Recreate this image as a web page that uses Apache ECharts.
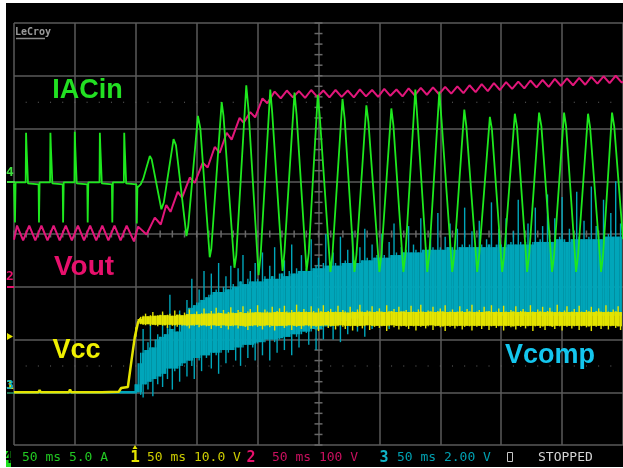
<!DOCTYPE html>
<html><head><meta charset="utf-8">
<script src="https://cdn.jsdelivr.net/npm/echarts/dist/echarts.min.js"></script>
<style>html,body{margin:0;padding:0;background:#fff;}#c{width:623px;height:468px;}</style>
</head><body><div id="c"></div>
<script>
// ---- channel scales (per division) ----
var timePerDivMs = 50;           // 10 divisions
var ch4AmpsPerDiv = 5;           // IACin
var ch1VoltsPerDiv = 10;         // Vcc
var ch2VoltsPerDiv = 100;        // Vout
var ch3VoltsPerDiv = 2;          // Vcomp
var statusTexts = ["50 ms 5.0 A", "50 ms 10.0 V", "50 ms 100 V", "50 ms 2.00 V", "STOPPED"];
var labelTexts = ["IACin", "Vout", "Vcc", "Vcomp"];

// ---- IACin (A) : [time ms, amps] ----
var iacin = [
[0,-0.2],[0.5,-0.2],[0.8,-3.9],[1.3,-0.1],
[9.6,-0.1],[9.9,4.6],[10.3,3.2],[11.2,3.2],[11.5,-0.2],[20.2,-0.3],[20.5,-3.9],[21,-0.1],
[29.6,-0.1],[29.9,4.6],[30.3,3.2],[31.2,3.2],[31.5,-0.2],[40,-0.3],[40.3,-3.9],[40.8,-0.1],
[49.6,-0.1],[49.9,4.7],[50.3,3.2],[51.2,3.2],[51.5,-0.2],[60.2,-0.3],[60.5,-3.9],[61,-0.1],
[70.2,-0.1],[70.5,4.6],[70.9,3.2],[71.8,3.2],[72.1,-0.2],[80.4,-0.3],[80.7,-3.9],[81.2,-0.1],
[90.2,-0.1],[90.5,4.6],[90.9,3.2],[91.8,3.2],[92.1,-0.2],[100.5,-0.3],[100.8,-4.0],[101.3,-0.6],
[102,-0.6],[104,-0.3],[106,0.2],[111.5,2.4],[113,2.1],[121,-2.65],[123,-2.0],[131,4.0],[133,3.4],
[141.6,-5.2],[143,-4.3],[151,6.2],[153,5.0],[160.7,-7.2],[162,-6.4],[170.5,7.5],[172,6.2],
[181,-8.2],[182.5,-7.0],[190.7,9.1],[192.5,6.8],[200.8,-8.9],[202.5,-7.0],[210.4,8.7],[212,6.5],
[220.5,-8.5],[222,-6.8],[230.3,8.4],[232,6.3],[240.2,-8.5],[242,-6.8],[249.4,8.2],[251,6.2],
[259.8,-8.6],[261.5,-6.9],[269.7,7.8],[271.5,5.9],[279.5,-8.6],[281.2,-6.9],[289.3,7.2],[291,5.6],
[300,-8.6],[301.7,-6.9],[309.8,6.9],[311.5,5.3],[319.7,-8.6],[321.4,-6.9],[329.5,8.7],[331.2,5.9],
[339.3,-8.6],[341,-6.9],[349.2,8.5],[351,5.8],[359.8,-8.6],[361.5,-6.9],[369.7,6.8],[371.4,5.2],
[380.3,-8.6],[382,-6.9],[390.7,6.1],[392.4,4.9],[400.8,-8.6],[402.5,-6.9],[411.2,6.4],[413,5.1],
[421.3,-8.6],[423,-6.9],[431.1,6.5],[433,5.2],[441.8,-8.6],[443.5,-6.9],[451.6,6.5],[453.3,5.2],
[461.5,-8.6],[463.2,-6.9],[471.3,6.4],[473,5.1],[482,-8.6],[483.7,-6.9],[491,6.5],[492.8,5.2],[500,-5.5]
];

// ---- Vout (V) : [time ms, volts] ----
var vout = [
[0,89],[2.5,116],[7.5,88],[12.5,116],[17.5,88],[22.5,116],[27.5,88],[32.5,116],[37.5,88],[42.5,116],
[47.5,88],[52.5,116],[57.5,88],[62.5,116],[67.5,88],[72.5,116],[77.5,88],[82.5,116],[87.5,88],[92.5,116],
[98.5,86],[101.9,114],[108.8,99],[115.6,131],[120.5,118],[125,155],[128.5,142],[134.4,180],[138,169],
[144.3,207],[148.4,197],[154.9,235],[159,226],[164.8,265],[168.9,254],[174.6,292],[178.7,279],[185.2,320],
[188.5,311],[194,331],[198,321],[204,357],[208,348],[214,370],[219,357],[224,372],[229,359],[234,371],
[239,358],[244,373],[249,360],[254,372],[259,359],[264,373],[269,360],[274,372],[279,359],[284,374],
[289,361],[294,373],[299,360],[304,375],[309,362],[314,374],[319,361],[324,376],[329,363],[334,377],
[339,364],[344,378],[349,365],[354,379],[359,366],[364,380],[369,367],[374,382],[379,369],[384,384],
[389,371],[394,386],[399,373],[404,388],[409,375],[414,389],[419,376],[424,391],[429,378],[434,392],
[439,379],[444,394],[449,381],[454,395],[459,382],[464,396],[469,383],[474,398],[479,385],[484,399],
[489,386],[494,400],[499,387],[500,389]
];

// ---- Vcc (V) before the noisy plateau : [time ms, volts] ----
var vccStart = [
[0,0],[20,0],[21,0.4],[22,0],[45,0],[46,0.5],[47,0],[70,0],[71,0.3],[72,0],[86,0.1],[88,0.8],
[93.5,1.0],[96.5,6.1],[99.2,10.5],[101.9,13.3],[104,14.0]
];
// Vcc noisy plateau, sampled every 2 ms from 100 ms: upper / lower edge (V)
var vccT0 = 100, vccDt = 2;
var vccHi = [
12.3,13.9,14.3,14.5,14.9,14.4,14.6,15.2,14.5,14.6, 14.7,15.3,14.6,14.7,14.9,14.5,15.5,14.7,14.8,14.6,
15.1,14.8,15.7,14.8,14.9,15.3,14.8,15.0,15.9,14.9, 15.0,15.4,14.9,16.0,15.1,15.0,15.6,14.9,15.2,16.1,
15.1,15.0,15.6,15.2,16.3,15.0,15.3,15.8,15.1,15.2, 16.5,15.2,15.1,15.7,15.3,15.1,16.2,15.2,15.4,15.9,
15.2,16.4,15.3,15.1,15.6,15.2,16.6,15.3,15.2,15.8, 15.3,15.2,16.3,15.4,15.1,15.9,15.3,16.5,15.2,15.4,
15.8,15.2,15.3,16.4,15.2,15.6,15.3,15.1,16.2,15.3, 15.2,15.7,16.6,15.3,15.2,15.5,15.3,16.3,15.2,15.4,
15.9,15.3,15.2,16.5,15.3,15.4,15.8,15.2,16.2,15.3, 15.3,15.6,15.2,16.4,15.3,15.2,15.7,16.6,15.3,15.2,
15.5,15.3,16.2,15.2,15.4,15.9,15.3,16.5,15.2,15.3, 15.7,15.2,15.3,16.3,15.4,15.2,15.8,15.3,16.6,15.2,
15.3,15.6,15.2,16.2,15.3,15.4,16.5,15.2,15.3,15.9, 15.2,16.4,15.3,15.2,15.6,15.3,16.3,15.2,15.4,15.8,
15.3,15.2,16.5,15.3,15.2,15.7,15.3,16.2,15.2,15.4, 16.0,15.3,15.2,16.6,15.3,15.2,15.5,16.3,15.2,15.3,
15.8,15.2,16.4,15.3,15.2,15.6,15.3,16.2,15.2,15.4, 15.9,15.3,15.2,16.5,15.3,15.2,15.7,15.3,16.3,15.2
];
var vccLo = [
10.5,13.0,12.9,12.8,12.7,12.9,12.6,12.8,12.7,12.5, 12.8,12.6,12.7,12.2,12.8,12.6,12.7,12.4,12.8,12.6,
12.7,12.5,12.1,12.7,12.6,12.8,12.3,12.6,12.7,12.5, 12.6,12.0,12.7,12.5,12.6,12.2,12.7,12.5,11.9,12.6,
12.5,12.7,12.1,12.6,12.5,12.4,11.8,12.6,12.5,12.7, 12.4,12.6,11.9,12.5,12.7,12.3,12.6,11.7,12.5,12.6,
12.6,12.2,12.5,12.7,11.8,12.6,12.4,12.6,12.0,12.5, 12.7,12.5,12.1,12.6,12.4,11.6,12.6,12.5,12.7,12.2,
12.5,12.6,11.9,12.5,12.7,12.4,12.0,12.6,12.5,11.7, 12.6,12.4,12.6,12.1,12.5,12.7,11.8,12.6,12.4,12.6,
12.2,12.5,12.6,11.6,12.5,12.7,12.3,12.6,11.9,12.5, 12.6,12.4,12.0,12.6,12.5,11.7,12.6,12.4,12.6,12.1,
12.5,12.7,11.8,12.5,12.6,12.3,12.5,11.6,12.6,12.4, 12.6,12.1,12.5,12.6,11.9,12.4,12.6,12.5,11.7,12.6,
12.4,12.6,12.0,12.5,12.6,11.8,12.5,12.6,12.2,12.5, 12.6,11.7,12.5,12.6,12.3,12.5,11.9,12.6,12.4,12.6,
12.1,12.5,12.6,11.6,12.5,12.6,12.2,12.5,11.8,12.6, 12.5,12.4,12.0,12.6,12.5,11.7,12.6,12.4,12.6,12.1,
12.5,12.6,11.8,12.5,12.6,12.3,12.5,11.6,12.6,12.4, 12.6,12.0,12.5,12.6,11.9,12.5,12.6,12.2,12.5,11.8
];

// ---- Vcomp (V) ----
var vcompStart = [[0,0],[101,0]];
var vcompT0 = 100, vcompDt = 2;
var vcompHi = [
0.3,1.1,1.5,2.4,1.6,1.9,2.6,1.7,2.0,2.2, 2.1,3.0,2.2,2.5,3.7,2.4,2.6,2.3,3.1,2.8,
2.9,3.5,3.2,4.3,3.3,3.4,3.9,3.5,4.6,3.6, 3.7,4.5,3.8,3.9,4.9,3.8,4.0,4.4,3.9,4.8,
4.1,4.0,4.7,4.2,5.2,4.1,4.3,4.6,4.2,4.9, 4.3,4.2,5.3,4.4,4.3,4.8,4.4,5.5,4.3,4.5,
4.5,5.0,4.4,4.6,5.6,4.5,4.7,4.6,5.2,4.6, 4.7,4.6,5.8,4.7,4.8,5.1,4.7,4.9,6.0,4.8,
4.8,5.3,4.9,4.8,5.9,4.9,5.0,5.4,4.9,6.1, 5.0,4.9,5.5,5.0,6.2,5.1,5.0,5.6,5.1,5.2,
5.1,6.0,5.2,5.1,5.7,5.2,6.4,5.3,5.2,5.5, 5.3,5.4,6.3,5.3,5.6,5.4,5.3,6.6,5.4,5.5,
5.4,6.0,5.5,5.4,6.8,5.5,5.4,5.9,5.5,6.4, 5.5,5.4,6.2,5.5,5.6,7.0,5.5,5.6,6.1,5.5,
5.5,6.5,5.6,5.5,5.8,5.6,7.2,5.5,5.6,6.2, 5.6,5.5,6.6,5.6,5.7,6.1,5.6,7.3,5.7,5.6,
5.7,6.4,5.6,5.7,7.0,5.7,5.8,6.3,5.7,7.5, 5.8,5.7,6.6,5.8,5.9,7.4,5.8,5.7,6.2,5.8,
5.8,7.6,5.9,5.8,6.5,5.8,5.9,7.8,5.8,6.3, 5.9,5.8,7.3,5.9,6.0,6.8,5.9,8.0,5.9,6.4
];
var vcompLo = [
0.0,0.0,-0.1,-0.2,0.3,0.1,0.4,-0.15,0.5,0.3, 0.6,0.2,0.7,0.5,0.9,0.1,0.8,0.9,0.4,1.0,
1.1,0.6,1.2,1.0,0.5,1.3,1.2,0.8,1.4,1.3, 1.4,0.9,1.5,1.4,0.7,1.5,1.6,1.1,1.5,1.6,
1.6,1.2,1.7,1.0,1.7,1.8,1.3,1.8,1.7,1.2, 1.85,1.9,1.4,1.9,2.0,1.2,2.0,1.9,1.5,2.0,
2.05,1.6,2.1,2.1,1.4,2.2,2.1,1.7,2.2,2.3, 2.25,1.8,2.3,2.4,1.6,2.4,2.4,2.0,2.5,2.5,
2.5,2.0,2.6,2.6,1.9,2.7,2.6,2.2,2.7,2.8, 2.75,2.3,2.8,2.9,2.1,2.9,2.9,2.4,3.0,2.9,
2.95,2.6,3.0,3.0,2.4,3.0,3.0,2.7,3.0,3.0, 3.0,2.8,3.0,3.0,2.6,3.0,3.0,2.8,3.0,3.0,
3.0,2.8,3.0,2.9,2.6,3.0,2.9,2.7,3.0,2.9, 2.9,3.0,2.6,2.9,3.0,2.9,2.7,2.9,3.0,2.9,
2.9,2.7,2.9,3.0,2.9,2.6,2.9,3.0,2.8,2.9, 2.9,2.9,2.7,2.9,3.0,2.9,2.6,2.9,2.9,2.8,
2.9,2.9,2.7,2.9,3.0,2.6,2.9,2.9,2.9,2.7, 2.9,2.9,2.8,2.9,2.9,2.6,2.9,2.9,2.7,2.9,
2.9,2.9,2.6,2.9,3.0,2.9,2.7,2.9,2.9,2.8, 2.9,2.9,2.6,2.9,2.9,2.8,2.9,2.9,2.7,2.9
];

// ---- colours ----
var C_GREEN = '#1ee81e', C_PINK = '#e2167a', C_YEL = '#e4e400', C_CYAN = '#00a6ba', C_GRID = '#5a5a5a';

function bandData(t0, dt, lo, hi) {
  var out = [];
  for (var i = 0; i < hi.length; i++) out.push([t0 + i * dt, lo[i], hi[i]]);
  return out;
}
// each sample: a solid core column (shared with its neighbours) plus a thin spike to its own extremes
function bandRender(color, dt, lo, hi) {
  return function (params, api) {
    var i = params.dataIndex, n = hi.length;
    var ip = Math.max(0, i - 1), inx = Math.min(n - 1, i + 1);
    var t = api.value(0), l = api.value(1), h = api.value(2);
    var coreHi = Math.min(h, hi[ip], hi[inx]);
    var coreLo = Math.max(l, lo[ip], lo[inx]);
    var ch = [];
    if (coreHi > coreLo) {
      var a = api.coord([t - dt / 2 - 0.1, coreHi]), b = api.coord([t + dt / 2 + 0.1, coreLo]);
      ch.push({ type: 'rect', shape: { x: a[0], y: a[1], width: b[0] - a[0], height: b[1] - a[1] }, style: { fill: color } });
    }
    var c = api.coord([t, h]), d = api.coord([t, l]);
    ch.push({ type: 'rect', shape: { x: c[0] - 0.7, y: c[1], width: 1.4, height: d[1] - c[1] }, style: { fill: color } });
    return { type: 'group', children: ch };
  };
}

var chart = echarts.init(document.getElementById('c'), null, { renderer: 'canvas' });

var graphic = [];
function txt(t, x, y, font, fill, align, va) {
  graphic.push({ type: 'text', z: 100, style: { text: t, x: x, y: y, font: font, fill: fill, align: align || 'left', verticalAlign: va || 'middle' } });
}
function ln(x1, y1, x2, y2, c, w) {
  graphic.push({ type: 'line', z: 100, shape: { x1: x1, y1: y1, x2: x2, y2: y2 }, style: { stroke: c, lineWidth: w } });
}
// logo
txt('LeCroy', 15, 32, 'bold 10px "DejaVu Sans Mono"', '#9a9a9a');
ln(16, 38.5, 45, 38.5, '#8a8a8a', 1.5);
// waveform labels
txt(labelTexts[0], 87.5, 91, 'bold 27px "Liberation Sans"', '#22e022', 'center');
txt(labelTexts[1], 84, 267, 'bold 28px "Liberation Sans"', '#e8106c', 'center');
txt(labelTexts[2], 76.5, 351, 'bold 27px "Liberation Sans"', '#f0f000', 'center');
txt(labelTexts[3], 505, 356, 'bold 27px "Liberation Sans"', '#14c6ee', 'left');
// left channel markers
txt('4', 10, 173, 'bold 13px "DejaVu Sans Mono"', '#3ee03e', 'center');
ln(7, 182, 15, 182, '#3ee03e', 2);
txt('2', 10, 277, 'bold 13px "DejaVu Sans Mono"', '#e8106c', 'center');
ln(7, 287, 14, 287, '#e8106c', 2);
graphic.push({ type: 'polygon', z: 100, shape: { points: [[7, 333], [13, 336.5], [7, 340]] }, style: { fill: '#e4e400' } });
txt('1', 10, 386, 'bold 13px "DejaVu Sans Mono"', '#e4e400', 'center');
txt('3', 10, 386, 'bold 13px "DejaVu Sans Mono"', '#10b4c8', 'center');
ln(7, 393, 14, 393, '#2a9a6a', 1.5);
// status bar
graphic.push({ type: 'rect', z: 100, shape: { x: 5, y: 451, width: 6, height: 16 }, style: { fill: '#1ee01e' } });
txt('4', 8, 459, 'bold 15px "DejaVu Sans Mono"', '#000', 'center');
txt(statusTexts[0], 22, 458, '13px "DejaVu Sans Mono"', '#22c822');
graphic.push({ type: 'polygon', z: 100, shape: { points: [[132.5, 449], [137.5, 449], [135, 445]] }, style: { fill: '#e4e400' } });
txt('1', 135, 458, 'bold 16px "DejaVu Sans Mono"', '#e4e400', 'center');
txt(statusTexts[1], 147, 458, '13px "DejaVu Sans Mono"', '#cccc00');
txt('2', 251, 458, 'bold 15px "DejaVu Sans Mono"', '#e8106c', 'center');
txt(statusTexts[2], 272, 458, '13px "DejaVu Sans Mono"', '#c8105e');
txt('3', 384, 458, 'bold 15px "DejaVu Sans Mono"', '#10b4c8', 'center');
txt(statusTexts[3], 397, 458, '13px "DejaVu Sans Mono"', '#00a0b0');
graphic.push({ type: 'rect', z: 100, shape: { x: 507.5, y: 452.5, width: 5, height: 9 }, style: { fill: 'none', stroke: '#c8c8c8', lineWidth: 1 } });
txt(statusTexts[4], 538, 458, '13px "DejaVu Sans Mono"', '#d4d4d4');
// white frame edges of the photo
graphic.push({ type: 'rect', z: 120, shape: { x: 0, y: 0, width: 6, height: 468 }, style: { fill: '#fff' } });
graphic.push({ type: 'rect', z: 120, shape: { x: 0, y: 0, width: 623, height: 3 }, style: { fill: '#fff' } });
graphic.push({ type: 'rect', z: 120, shape: { x: 0, y: 467, width: 623, height: 1 }, style: { fill: '#fff' } });

var option = {
  animation: false,
  backgroundColor: '#000',
  grid: { left: 14, top: 23, width: 610, height: 422, containLabel: false },
  xAxis: {
    type: 'value', min: 0, max: 10 * timePerDivMs, interval: timePerDivMs,
    axisLine: { show: false }, axisTick: { show: false }, axisLabel: { show: false },
    splitLine: { show: true, lineStyle: { color: C_GRID, width: 1.5 } }
  },
  yAxis: [
    { type: 'value', min: -4, max: 4, interval: 1, axisLine: { show: false }, axisTick: { show: false }, axisLabel: { show: false },
      splitLine: { show: true, lineStyle: { color: C_GRID, width: 1.5 } } },
    { type: 'value', show: false, min: -5 * ch4AmpsPerDiv, max: 3 * ch4AmpsPerDiv, splitLine: { show: false } },
    { type: 'value', show: false, min: -3 * ch2VoltsPerDiv, max: 5 * ch2VoltsPerDiv, splitLine: { show: false } },
    { type: 'value', show: false, min: -1 * ch1VoltsPerDiv, max: 7 * ch1VoltsPerDiv, splitLine: { show: false } },
    { type: 'value', show: false, min: -1 * ch3VoltsPerDiv, max: 7 * ch3VoltsPerDiv, splitLine: { show: false } }
  ],
  graphic: graphic,
  series: [
    { type: 'custom', silent: true, z: 1, xAxisIndex: 0, yAxisIndex: 0, data: [[0, 0]], encode: { x: 0, y: 1 },
      renderItem: function (params, api) {
        var ch = [], p, t, k;
        for (t = 0; t <= 500; t += 10) { p = api.coord([t, 0]); ch.push({ type: 'line', shape: { x1: p[0], y1: p[1] - 3.5, x2: p[0], y2: p[1] + 3.5 }, style: { stroke: '#686868', lineWidth: 1.5 } }); }
        for (k = -20; k <= 20; k++) { p = api.coord([250, k / 5]); ch.push({ type: 'line', shape: { x1: p[0] - 4, y1: p[1], x2: p[0] + 4, y2: p[1] }, style: { stroke: '#686868', lineWidth: 1.5 } }); }
        var lv = [2.5, -2.5];
        for (k = 0; k < 2; k++) for (t = 10; t < 500; t += 10) { p = api.coord([t, lv[k]]); ch.push({ type: 'rect', shape: { x: p[0] - 0.5, y: p[1] - 0.5, width: 1, height: 1 }, style: { fill: '#666' } }); }
        return { type: 'group', children: ch };
      } },
    { type: 'line', name: 'Vcomp0', xAxisIndex: 0, yAxisIndex: 4, z: 2, data: vcompStart, symbol: 'none', lineStyle: { color: C_CYAN, width: 2.5 } },
    { type: 'custom', name: 'Vcomp', xAxisIndex: 0, yAxisIndex: 4, z: 3, silent: true, encode: { x: 0, y: [1, 2] },
      data: bandData(vcompT0, vcompDt, vcompLo, vcompHi), renderItem: bandRender(C_CYAN, vcompDt, vcompLo, vcompHi) },
    { type: 'line', name: 'Vcc0', xAxisIndex: 0, yAxisIndex: 3, z: 4, data: vccStart, symbol: 'none', lineStyle: { color: C_YEL, width: 2.5 } },
    { type: 'custom', name: 'Vcc', xAxisIndex: 0, yAxisIndex: 3, z: 4, silent: true, encode: { x: 0, y: [1, 2] },
      data: bandData(vccT0, vccDt, vccLo, vccHi), renderItem: bandRender(C_YEL, vccDt, vccLo, vccHi) },
    { type: 'line', name: 'Vout', xAxisIndex: 0, yAxisIndex: 2, z: 5, data: vout, symbol: 'none', lineStyle: { color: C_PINK, width: 2 } },
    { type: 'line', name: 'IACin', xAxisIndex: 0, yAxisIndex: 1, z: 6, data: iacin, symbol: 'none', lineStyle: { color: C_GREEN, width: 1.8 } }
  ]
};
chart.setOption(option);
</script></body></html>
